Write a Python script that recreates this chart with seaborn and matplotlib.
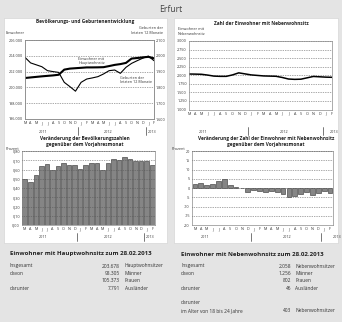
import numpy as np
import pandas as pd
import seaborn as sns
import matplotlib
matplotlib.use('Agg')
import matplotlib.pyplot as plt
from matplotlib.patches import Rectangle
from matplotlib.ticker import FuncFormatter, MultipleLocator
import matplotlib.transforms as mtransforms

sns.set_theme(style='white')
plt.rcParams['font.family'] = ['Open Sans', 'DejaVu Sans']

months = ['M', 'A', 'M', 'J', 'J', 'A', 'S', 'O', 'N', 'D', 'J', 'F',
          'M', 'A', 'M', 'J', 'J', 'A', 'S', 'O', 'N', 'D', 'J', 'F']
years = ['2011', '2012', '2013']

einwohner_haupt = [201190, 201260, 201330, 201400, 201460, 201520, 201600, 202250,
                   202380, 202430, 202480, 202530, 202530, 202540, 202560, 202700,
                   202850, 202950, 203100, 203650, 203720, 203800, 203870, 203680]
geburten_12m = [1990, 1955, 1943, 1931, 1906, 1900, 1895, 1832, 1805, 1776, 1832, 1853,
                1860, 1868, 1885, 1906, 1910, 1889, 1927, 1952, 1969, 1985, 1998, 1969]
einwohner_neben = [2036, 2033, 2028, 2005, 1975, 1968, 1968, 2010, 2070, 2040, 2010, 1995,
                   1980, 1975, 1970, 1935, 1890, 1880, 1885, 1925, 1965, 1955, 1945, 1940]
veraenderung_haupt = [0.50, 0.46, 0.54, 0.635, 0.655, 0.60, 0.64, 0.665, 0.65, 0.65, 0.605, 0.645,
                      0.665, 0.665, 0.59, 0.665, 0.715, 0.705, 0.74, 0.715, 0.69, 0.69, 0.69, 0.65]
veraenderung_neben = [2.4, 2.5, 1.8, 2.4, 3.8, 5.1, 1.8, 0.7, 0.1, -2.4, -1.1, -1.6,
                      -2.4, -1.8, -2.2, -3.3, -5.1, -4.2, -3.3, -2.2, -3.8, -2.7, -1.8, -2.6]

haupt_labels = ['Insgesamt', 'davon', '', 'darunter']
haupt_values = ['203.678', '98.305', '105.373', '7.791']
haupt_units = ['Hauptwohnsitzer', 'Männer', 'Frauen', 'Ausländer']
neben_labels = ['Insgesamt', 'davon', '', 'darunter', 'darunter', 'im Alter von 18 bis 24 Jahre']
neben_values = ['2.058', '1.256', '802', '46', '', '403']
neben_units = ['Nebenwohnsitzer', 'Männer', 'Frauen', 'Ausländer', '', 'Nebenwohnsitzer']

W, H = 342, 322
fig = plt.figure(figsize=(3.42, 3.22), dpi=100)
fig.patch.set_facecolor('#e4e4e4')

def fx(x):
    return x / W

def fy(y):
    return 1 - y / H

def rect(x0, y0, x1, y1):
    return [fx(x0), fy(y1), (x1 - x0) / W, (y1 - y0) / H]

TXT = '#333333'
TICK = 2.7
SPINE = '#8a8a8a'

for (x0, y0, x1, y1) in [(4, 18, 167, 243), (174, 18, 338, 243)]:
    fig.add_artist(Rectangle((fx(x0), fy(y1)), (x1 - x0) / W, (y1 - y0) / H,
                             transform=fig.transFigure, facecolor='white',
                             edgecolor='#d0d0d0', lw=0.4, zorder=-1))

fig.text(fx(171), fy(9), 'Erfurt', ha='center', va='center', fontsize=6.2, color='#444444')

def de_int(v, pos=None):
    return f"{v:,.0f}".replace(',', '.')

def de_pct(v, pos=None):
    return f"{v:.2f}".replace('.', ',')

def int_fmt(v, pos=None):
    return f"{v:.0f}"

def style_axes(ax):
    for s in ax.spines.values():
        s.set_color(SPINE)
        s.set_linewidth(0.5)
    ax.set_xlabel('')
    ax.set_ylabel('')
    ax.tick_params(axis='both', length=0, labelsize=TICK, colors=TXT, pad=1.5)
    ax.grid(axis='y', ls=(0, (1, 1.5)), color='#555555', lw=0.5)
    ax.grid(axis='x', visible=False)

def years_axis(ax, yyear, ysep0, ysep1, year_pos, seps):
    trans = mtransforms.blended_transform_factory(ax.transData, fig.transFigure)
    for yr, xp in zip(years, year_pos):
        ax.text(xp, fy(yyear), yr, transform=trans, ha='center', va='center',
                fontsize=TICK, color=TXT)
    for s in seps:
        ax.plot([s, s], [fy(ysep0), fy(ysep1)], transform=trans, color='#444444',
                lw=0.5, clip_on=False)

# ---------- top left ----------
df1 = pd.DataFrame({'m': np.arange(24), 'haupt': einwohner_haupt, 'geb': geburten_12m})
ax1 = fig.add_axes(rect(25, 40, 154, 119))
ax1.set_facecolor('white')
sns.lineplot(data=df1, x='m', y='haupt', ax=ax1, color='black', lw=1.5)
ax1.set_ylim(196000, 206000)
ax1.set_xlim(0, 23)
ax1.yaxis.set_major_locator(MultipleLocator(2000))
ax1.yaxis.set_major_formatter(FuncFormatter(de_int))
ax1.set_xticks(range(24))
ax1.set_xticklabels(months)
style_axes(ax1)
ax1b = ax1.twinx()
sns.lineplot(data=df1, x='m', y='geb', ax=ax1b, color='black', lw=0.8)
ax1b.set_ylim(1600, 2100)
ax1b.yaxis.set_major_locator(MultipleLocator(100))
ax1b.yaxis.set_major_formatter(FuncFormatter(de_int))
ax1b.set_ylabel('')
for s in ax1b.spines.values():
    s.set_color(SPINE)
    s.set_linewidth(0.5)
ax1b.tick_params(axis='y', length=0, labelsize=TICK, colors=TXT, pad=1.5)
ax1b.grid(False)
years_axis(ax1, 132, 127, 135, [3.2, 14.8, 22.6], [9.5, 21.5])
fig.text(fx(85), fy(21.5), 'Bevölkerungs- und Geburtenentwicklung', ha='center', va='center',
         fontsize=3.4, fontweight='bold', color='#222222')
fig.text(fx(6), fy(33), 'Einwohner', ha='left', va='center', fontsize=TICK, color=TXT)
fig.text(fx(163), fy(30.5), 'Geburten der\nletzten 12 Monate', ha='right', va='center',
         fontsize=TICK, color=TXT, linespacing=1.2)
ax1.text(9.5, 203350, 'Einwohner mit\nHauptwohnsitz', ha='left', va='center',
         fontsize=TICK, color=TXT, linespacing=1.2)
ax1.text(17.0, 200950, 'Geburten der\nletzten 12 Monate', ha='left', va='center',
         fontsize=TICK, color=TXT, linespacing=1.2)

# ---------- top right ----------
df2 = pd.DataFrame({'m': np.arange(24), 'neben': einwohner_neben})
ax2 = fig.add_axes(rect(189, 41, 332, 109.5))
ax2.set_facecolor('white')
sns.lineplot(data=df2, x='m', y='neben', ax=ax2, color='black', lw=1.1)
ax2.set_ylim(1000, 3000)
ax2.set_xlim(0, 23)
ax2.yaxis.set_major_locator(MultipleLocator(250))
ax2.yaxis.set_major_formatter(FuncFormatter(de_int))
ax2.set_xticks(range(24))
ax2.set_xticklabels(months)
style_axes(ax2)
years_axis(ax2, 132, 127, 135, [2.3, 15.3, 23.3], [9.5, 21.5])
fig.text(fx(261), fy(23.3), 'Zahl der Einwohner mit Nebenwohnsitz', ha='center', va='center',
         fontsize=3.4, fontweight='bold', color='#222222')
fig.text(fx(178), fy(31.5), 'Einwohner mit\nNebenwohnsitz', ha='left', va='center',
         fontsize=TICK, color=TXT, linespacing=1.2)

# ---------- bottom left ----------
df3 = pd.DataFrame({'m': np.arange(24), 'v': veraenderung_haupt})
ax3 = fig.add_axes(rect(22, 151, 155, 225))
ax3.set_facecolor('white')
sns.barplot(data=df3, x='m', y='v', ax=ax3, color='#858585', edgecolor='#4d4d4d',
            linewidth=0.5, width=0.82, saturation=1)
ax3.set_ylim(0, 0.8)
ax3.set_xlim(-0.5, 23.5)
ax3.yaxis.set_major_locator(MultipleLocator(0.1))
ax3.yaxis.set_major_formatter(FuncFormatter(de_pct))
ax3.set_xticks(range(24))
ax3.set_xticklabels(months)
style_axes(ax3)
ax3.set_axisbelow(False)
years_axis(ax3, 237, 233, 241, [3.3, 15.0, 22.6], [9.5, 21.5])
fig.text(fx(85), fy(141.5), 'Veränderung der Bevölkerungszahlen\ngegenüber dem Vorjahresmonat',
         ha='center', va='center', fontsize=3.4, fontweight='bold', color='#222222',
         linespacing=1.25)
fig.text(fx(6), fy(149), 'Prozent', ha='left', va='center', fontsize=TICK, color=TXT)

# ---------- bottom right ----------
df4 = pd.DataFrame({'m': np.arange(24), 'v': veraenderung_neben})
ax4 = fig.add_axes(rect(192, 151, 333, 225))
ax4.set_facecolor('white')
sns.barplot(data=df4, x='m', y='v', ax=ax4, color='#858585', edgecolor='#4d4d4d',
            linewidth=0.5, width=0.82, saturation=1)
ax4.set_ylim(-20, 20)
ax4.set_xlim(-0.5, 23.5)
ax4.yaxis.set_major_locator(MultipleLocator(5))
ax4.yaxis.set_major_formatter(FuncFormatter(int_fmt))
ax4.set_xticks(range(24))
ax4.set_xticklabels(months)
style_axes(ax4)
ax4.set_axisbelow(False)
years_axis(ax4, 237, 233, 241, [1.8, 15.7, 24.2], [9.5, 21.5])
fig.text(fx(266), fy(141.5),
         'Veränderung der Zahl der Einwohner mit Nebenwohnsitz\ngegenüber dem Vorjahresmonat',
         ha='center', va='center', fontsize=3.4, fontweight='bold', color='#222222',
         linespacing=1.25)
fig.text(fx(172), fy(149), 'Prozent', ha='left', va='center', fontsize=TICK, color=TXT)

# ---------- tables ----------
def table(x0, xnum, xunit, title, labels, values, units, rows_y):
    fig.text(fx(x0), fy(254), title, ha='left', va='center', fontsize=4.4,
             fontweight='bold', color='#222222')
    for lab, val, un, yy in zip(labels, values, units, rows_y):
        fig.text(fx(x0), fy(yy), lab, ha='left', va='center', fontsize=3.5, color=TXT)
        fig.text(fx(xnum), fy(yy), val, ha='right', va='center', fontsize=3.5, color=TXT)
        fig.text(fx(xunit), fy(yy), un, ha='left', va='center', fontsize=3.5, color=TXT)

table(10, 120, 124.5, 'Einwohner mit Hauptwohnsitz zum 28.02.2013',
      haupt_labels, haupt_values, haupt_units, [266, 273.5, 281, 288.5])
table(181, 291, 295, 'Einwohner mit Nebenwohnsitz zum 28.02.2013',
      neben_labels, neben_values, neben_units, [266, 273.5, 281, 288.5, 302.5, 310.5])

fig.savefig('out.png', dpi=100, facecolor=fig.get_facecolor())
